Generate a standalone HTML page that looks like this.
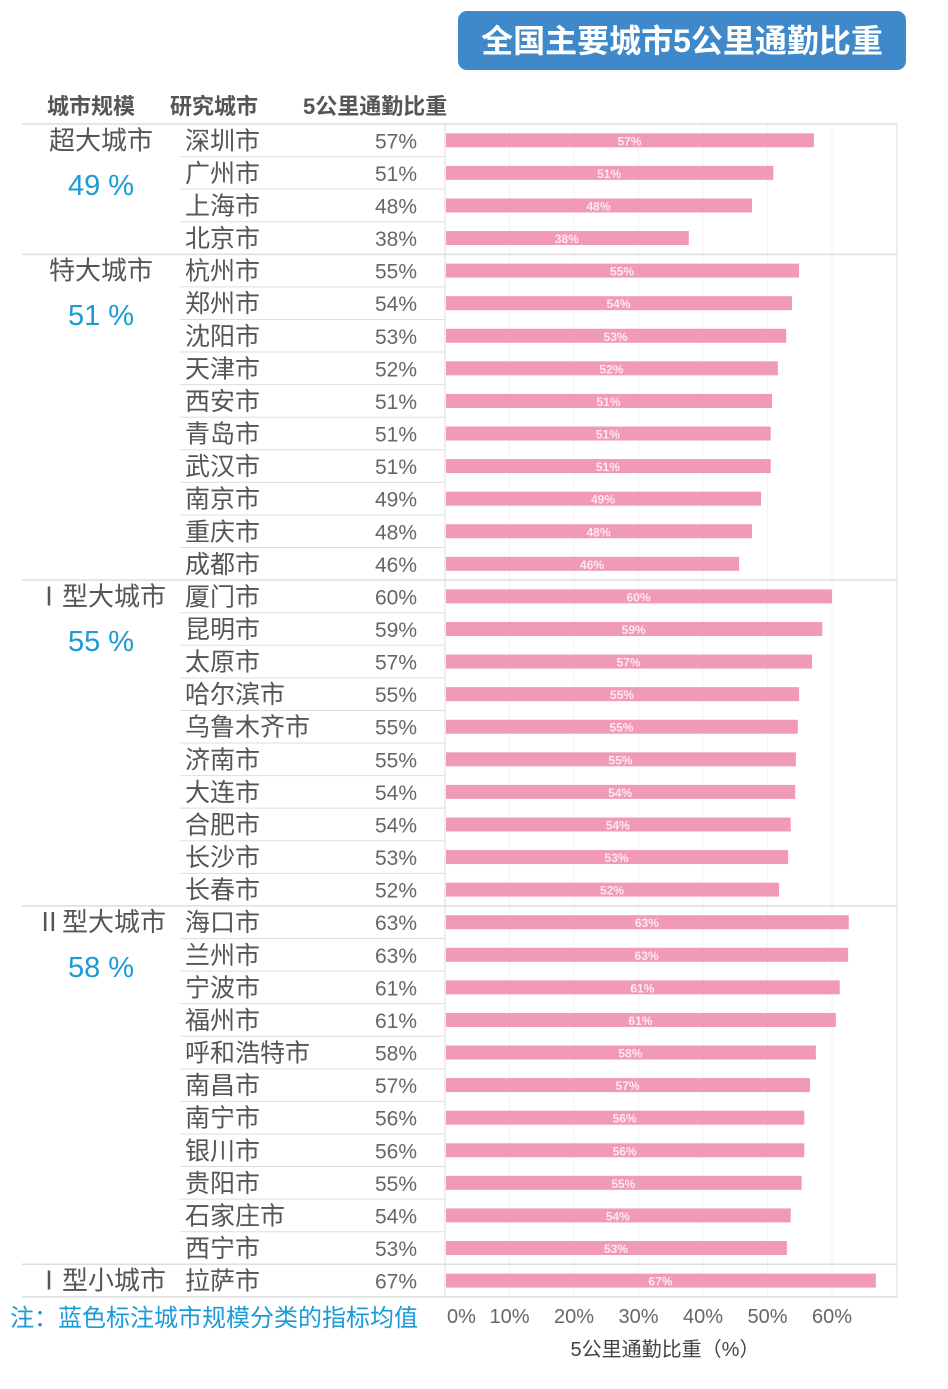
<!DOCTYPE html>
<html><head><meta charset="utf-8">
<style>
body{margin:0;background:#fff;width:948px;height:1384px;overflow:hidden;font-family:"Liberation Sans","Noto Sans CJK SC",sans-serif;}
svg text{font-family:"Liberation Sans","Noto Sans CJK SC",sans-serif;}
</style></head>
<body>
<svg id="chart" width="948" height="1384" xmlns="http://www.w3.org/2000/svg">
<rect x="458" y="11" width="448" height="59" rx="9" fill="#3f88c9"/>
<text x="682" y="52" text-anchor="middle" font-size="32" font-weight="bold" fill="#fff">全国主要城市5公里通勤比重</text>
<text x="47" y="114" font-size="22" font-weight="bold" fill="#555">城市规模</text>
<text x="170" y="114" font-size="22" font-weight="bold" fill="#555">研究城市</text>
<text x="303" y="114" font-size="22" font-weight="bold" fill="#555">5公里通勤比重</text>
<g id="grid"></g><g id="rows"></g><g id="bars"></g><g id="axis"></g>
<text x="10" y="1326" font-size="24" fill="#1a9ad6">注：蓝色标注城市规模分类的指标均值</text>
<text x="665" y="1356" text-anchor="middle" font-size="20" fill="#444">5公里通勤比重（%）</text>
</svg>
<script>
const cities=["深圳市","广州市","上海市","北京市","杭州市","郑州市","沈阳市","天津市","西安市","青岛市","武汉市","南京市","重庆市","成都市","厦门市","昆明市","太原市","哈尔滨市","乌鲁木齐市","济南市","大连市","合肥市","长沙市","长春市","海口市","兰州市","宁波市","福州市","呼和浩特市","南昌市","南宁市","银川市","贵阳市","石家庄市","西宁市","拉萨市"];
const values=[57.2,50.9,47.6,37.8,54.9,53.8,52.9,51.6,50.7,50.5,50.5,49.0,47.6,45.6,60.0,58.5,56.9,54.9,54.7,54.4,54.3,53.6,53.2,51.8,62.6,62.5,61.2,60.6,57.5,56.6,55.7,55.7,55.3,53.6,53.0,66.8];
const valueLabels=["57%","51%","48%","38%","55%","54%","53%","52%","51%","51%","51%","49%","48%","46%","60%","59%","57%","55%","55%","55%","54%","54%","53%","52%","63%","63%","61%","61%","58%","57%","56%","56%","55%","54%","53%","67%"];
const groupNames=["超大城市","特大城市","Ⅰ型大城市","Ⅱ型大城市","Ⅰ型小城市"];
const groupStart=[0,4,14,24,35];
const groupAvg=["49 %","51 %","55 %","58 %",""];
const ticks=[0,10,20,30,40,50,60];
const tickLabels=["0%","10%","20%","30%","40%","50%","60%"];

const NS="http://www.w3.org/2000/svg";
const X0=445,PX=6.45,Y0=124,RH=32.58,RIGHT=897;
const xs=v=>X0+v*PX;
const rowTop=i=>Y0+i*RH;
function mk(tag,attrs,parent,txt){const e=document.createElementNS(NS,tag);for(const k in attrs)e.setAttribute(k,attrs[k]);if(txt!==undefined)e.textContent=txt;parent.appendChild(e);return e;}
const grid=document.getElementById('grid'),rows=document.getElementById('rows'),bars=document.getElementById('bars'),axis=document.getElementById('axis');
const bottom=rowTop(cities.length);
ticks.forEach((t,i)=>{
  const l=mk('line',{x1:xs(t),x2:xs(t),y1:Y0,y2:bottom,stroke:i===0?'#ddd':'#f3f3f3','stroke-width':1},grid);
  
  
  const tx=mk('text',{x:i===0?xs(t)+2:xs(t),y:1323,'text-anchor':i===0?'start':'middle','font-size':20,fill:'#666'},axis,tickLabels[i]);
  
  
});
const rb=mk('line',{x1:RIGHT,x2:RIGHT,y1:Y0,y2:bottom,stroke:'#ddd'},grid);


for(let i=0;i<=cities.length;i++){
  const isG=groupStart.includes(i)||i===cities.length;
  const ln=mk('line',{x1:isG?22:180,x2:isG?RIGHT:X0,y1:rowTop(i),y2:rowTop(i),stroke:'#ddd','stroke-width':isG?1.5:1},grid);
  
  
}
groupNames.forEach((g,k)=>{
  const cy=rowTop(groupStart[k])+RH/2;
  const t=mk('text',{x:101,y:cy+9,'text-anchor':'middle','font-size':26,fill:'#555'},rows,g);
  
  
  if(groupAvg[k]){
    const a=mk('text',{x:101,y:cy+RH+22,'text-anchor':'middle','font-size':29,fill:'#1a9ad6'},rows,groupAvg[k]);
    
    
  }
});
cities.forEach((c,i)=>{
  const cy=rowTop(i)+RH/2;
  const n=mk('text',{x:185,y:cy+9,'font-size':25,fill:'#555'},rows,c);
  
  
  const lbl=valueLabels[i];
  const p=mk('text',{x:417,y:cy+8,'text-anchor':'end','font-size':21,fill:'#666'},rows,lbl);
  
  
  const b=mk('rect',{x:X0+1,y:cy-7,width:xs(values[i])-X0-1,height:14,fill:'#f19ab8'},bars);
  
  
  const bl=mk('text',{x:(X0+xs(values[i]))/2,y:cy+5,'text-anchor':'middle','font-size':12,'font-weight':'bold',fill:'#fde8ef'},bars,lbl);
  
  
});
</script>
</body></html>
